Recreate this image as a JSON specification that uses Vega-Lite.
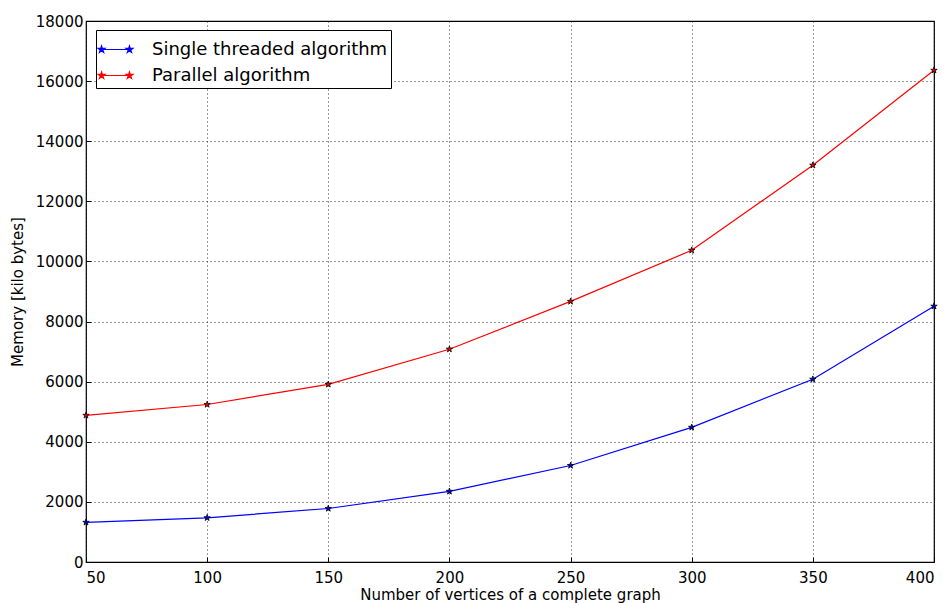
{
  "$schema": "https://vega.github.io/schema/vega-lite/v6.json",
  "autosize": "none",
  "width": 848,
  "height": 541,
  "padding": {"left": 86, "top": 21, "right": 17, "bottom": 41},
  "background": "white",
  "config": {
    "font": "DejaVu Sans",
    "view": {"stroke": "black", "strokeWidth": 1.2},
    "axis": {
      "labelFont": "DejaVu Sans", "labelFontSize": 15, "labelColor": "black",
      "titleFont": "DejaVu Sans", "titleFontSize": 15, "titleFontWeight": "normal", "titleColor": "black",
      "domain": false, "tickColor": "black", "tickSize": -5, "tickWidth": 1,
      "gridColor": "black", "gridDash": [1, 3], "gridOpacity": 0.8, "gridWidth": 1
    }
  },
  "data": {"values": [
    {"n": 50, "mem": 1320, "series": "Single threaded algorithm"},
    {"n": 100, "mem": 1470, "series": "Single threaded algorithm"},
    {"n": 150, "mem": 1780, "series": "Single threaded algorithm"},
    {"n": 200, "mem": 2350, "series": "Single threaded algorithm"},
    {"n": 250, "mem": 3210, "series": "Single threaded algorithm"},
    {"n": 300, "mem": 4480, "series": "Single threaded algorithm"},
    {"n": 350, "mem": 6080, "series": "Single threaded algorithm"},
    {"n": 400, "mem": 8510, "series": "Single threaded algorithm"},
    {"n": 50, "mem": 4880, "series": "Parallel algorithm"},
    {"n": 100, "mem": 5240, "series": "Parallel algorithm"},
    {"n": 150, "mem": 5910, "series": "Parallel algorithm"},
    {"n": 200, "mem": 7080, "series": "Parallel algorithm"},
    {"n": 250, "mem": 8670, "series": "Parallel algorithm"},
    {"n": 300, "mem": 10370, "series": "Parallel algorithm"},
    {"n": 350, "mem": 13200, "series": "Parallel algorithm"},
    {"n": 400, "mem": 16360, "series": "Parallel algorithm"}
  ]},
  "layer": [
    {
      "mark": {"type": "line", "strokeWidth": 1.2},
      "encoding": {
        "x": {"field": "n", "type": "quantitative",
          "scale": {"domain": [50, 400], "nice": false, "zero": false},
          "axis": {"values": [50, 100, 150, 200, 250, 300, 350, 400], "title": "Number of vertices of a complete graph", "titlePadding": 2, "labelPadding": 13, "orient": "bottom"}},
        "y": {"field": "mem", "type": "quantitative",
          "scale": {"domain": [0, 18000], "nice": false},
          "axis": {"values": [0, 2000, 4000, 6000, 8000, 10000, 12000, 14000, 16000, 18000], "format": "d", "title": "Memory [kilo bytes]", "titlePadding": 10, "labelPadding": 8}},
        "color": {"field": "series", "type": "nominal",
          "scale": {"domain": ["Single threaded algorithm", "Parallel algorithm"], "range": ["blue", "red"]},
          "legend": {
            "title": null, "orient": "none", "legendX": 10, "legendY": 9,
            "fillColor": "white", "strokeColor": "black", "padding": 3,
            "symbolType": "M-0.9,0L0.9,0M-0.9,-0.23L-0.849,-0.071L-0.681,-0.071L-0.817,0.027L-0.765,0.186L-0.9,0.087L-1.035,0.186L-0.983,0.027L-1.119,-0.071L-0.951,-0.071ZM0.9,-0.23L0.951,-0.071L1.119,-0.071L0.983,0.027L1.035,0.186L0.9,0.087L0.765,0.186L0.817,0.027L0.681,-0.071L0.849,-0.071Z",
            "symbolSize": 961, "symbolStrokeWidth": 1.2,
            "labelFont": "DejaVu Sans", "labelFontSize": 18, "labelColor": "black",
            "labelOffset": 20, "rowPadding": 0, "labelLimit": 400,
            "encode": {"symbols": {"update": {"fill": {"scale": "color", "field": "value"}, "fillOpacity": {"value": 1}}}}
          }
        }
      }
    },
    {
      "mark": {"type": "point", "shape": "M0,-1L0.223,-0.307L0.951,-0.309L0.361,0.117L0.588,0.809L0,0.38L-0.588,0.809L-0.361,0.117L-0.951,-0.309L-0.223,-0.307Z", "filled": true, "size": 45, "stroke": "black", "strokeWidth": 0.8, "opacity": 1},
      "encoding": {
        "x": {"field": "n", "type": "quantitative"},
        "y": {"field": "mem", "type": "quantitative"},
        "color": {"field": "series", "type": "nominal"}
      }
    }
  ]
}
